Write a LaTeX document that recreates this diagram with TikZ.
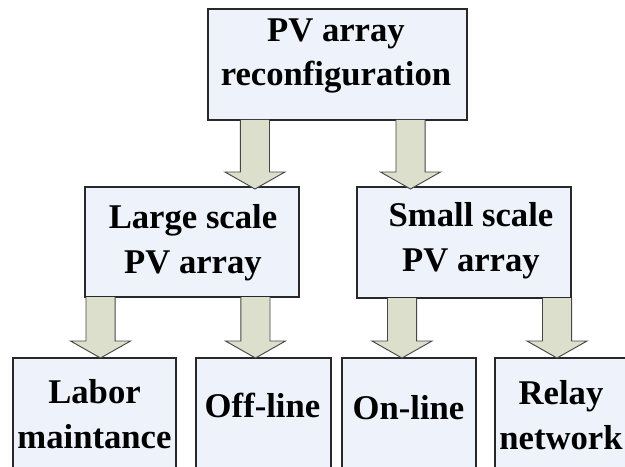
\documentclass[tikz,border=0pt]{standalone}
\usepackage{fontspec}
\setmainfont{Liberation Serif}
\usetikzlibrary{calc}
\definecolor{boxfill}{RGB}{238,243,251}
\definecolor{boxline}{RGB}{40,40,40}
\definecolor{arrfill}{RGB}{220,223,203}
\definecolor{arrline}{RGB}{70,70,70}
\tikzset{
  box/.style={draw=boxline, fill=boxfill, line width=0.9pt, inner sep=0pt, outer sep=0pt, anchor=north west},
  txt/.style={align=center, font=\fontsize{26pt}{33.5pt}\selectfont\bfseries, inner sep=0pt},
  barrowstyle/.style={fill=arrfill, draw=arrline, line width=0.7pt, line join=miter}
}
% #1 start point (x and top y), #2 end point (tip y)
\newcommand\barrow[2]{%
  \fill[arrfill] let \p1=#1, \p2=#2 in
    (\x1-10.9pt,\y1) -- (\x1-10.9pt,\y2+12.75pt) -- (\x1-22.5pt,\y2+12.75pt)
    -- (\x1,\y2) -- (\x1+22.5pt,\y2+12.75pt) -- (\x1+10.9pt,\y2+12.75pt)
    -- (\x1+10.9pt,\y1) -- cycle;
  \draw[draw=arrline, line width=0.7pt, line join=miter] let \p1=#1, \p2=#2 in
    (\x1-10.9pt,\y1) -- (\x1-10.9pt,\y2+12.75pt) -- (\x1-22.5pt,\y2+12.75pt)
    -- (\x1,\y2) -- (\x1+22.5pt,\y2+12.75pt) -- (\x1+10.9pt,\y2+12.75pt)
    -- (\x1+10.9pt,\y1);
}
\begin{document}
\begin{tikzpicture}[x=0.75pt, y=-0.75pt]
\useasboundingbox (0,0) rectangle (625,467);
\clip (0,0) rectangle (625,467);
% boxes
\node[box, minimum width=259*0.75pt, minimum height=111*0.75pt] (top) at (208,9) {};
\node[box, minimum width=214*0.75pt, minimum height=110*0.75pt] (midL) at (85,187) {};
\node[box, minimum width=214*0.75pt, minimum height=111*0.75pt] (midR) at (357,187) {};
\node[box, minimum width=163*0.75pt, minimum height=112*0.75pt] (b1) at (13,358) {};
\node[box, minimum width=135*0.75pt, minimum height=112*0.75pt] (b2) at (196,358) {};
\node[box, minimum width=134*0.75pt, minimum height=112*0.75pt] (b3) at (342,358) {};
\node[box, minimum width=132*0.75pt, minimum height=112*0.75pt] (b4) at (495,358) {};
% texts
\node[txt] (ttop) at (336,56) {PV array\\reconfiguration};
\node[txt] (tmidL) at (193,243) {Large scale\\PV array};
\node[txt] (tmidR) at (471,241) {Small scale\\PV array};
\node[txt] (tb1) at (94.5,414) {Labor\\maintance};
\node[txt, anchor=base] (tb2) at (262.5,417) {Off-line};
\node[txt, anchor=base] (tb3) at (408.5,419) {On-line};
\node[txt] (tb4) at (561,415) {Relay\\network};
% arrows
\barrow{([xshift=-61.9pt]top.south)}{([yshift=-1.5pt]midL.north)}
\barrow{([xshift=54.75pt]top.south)}{([yshift=-1.5pt]midR.north)}
\barrow{([xshift=-68.6pt]midL.south)}{(b1.north)}
\barrow{([xshift=47.6pt]midL.south)}{(b2.north)}
\barrow{([xshift=-46.5pt]midR.south)}{(b3.north)}
\barrow{([xshift=69.75pt]midR.south)}{(b4.north)}
\end{tikzpicture}
\end{document}
